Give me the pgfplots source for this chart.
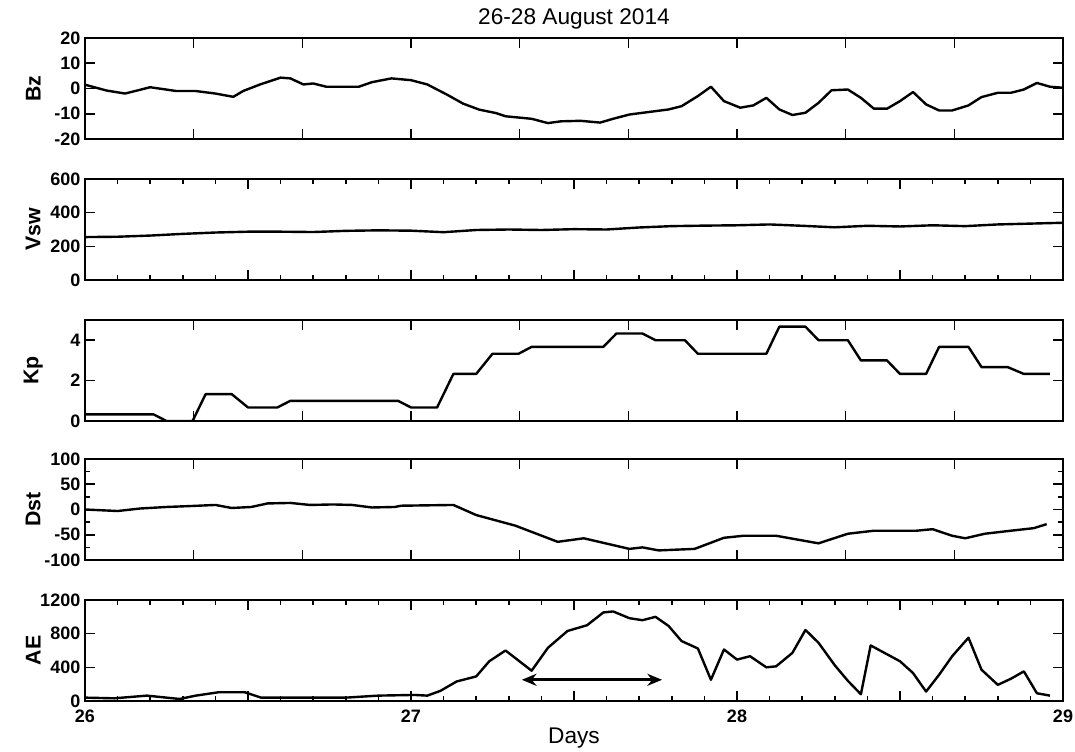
\documentclass[border=0pt]{standalone}
\usepackage{fontspec}
\setmainfont{Liberation Sans}
\usepackage{pgfplots}
\pgfplotsset{compat=1.18}
\usetikzlibrary{arrows.meta}

\pgfplotstableread{
x y
26.00 1.5
26.066 -0.8
26.123 -2
26.20 0.5
26.28 -1
26.34 -1
26.40 -2
26.455 -3.3
26.485 -1
26.537 1.6
26.60 4.3
26.63 4
26.67 1.6
26.70 2
26.74 0.7
26.84 0.7
26.88 2.5
26.94 4
27.00 3.3
27.05 1.6
27.11 -2.4
27.16 -6
27.21 -8.4
27.26 -9.7
27.29 -11
27.37 -12
27.42 -13.7
27.46 -13
27.52 -12.8
27.58 -13.5
27.62 -12
27.67 -10.3
27.73 -9.3
27.79 -8.3
27.83 -7
27.88 -3
27.92 0.7
27.96 -5
28.01 -7.6
28.05 -6.7
28.09 -3.7
28.13 -8.3
28.17 -10.5
28.21 -9.6
28.25 -5.7
28.29 -0.7
28.34 -0.4
28.38 -3.7
28.42 -8
28.46 -8
28.50 -5
28.54 -1.4
28.58 -6.3
28.62 -8.7
28.66 -8.7
28.71 -6.7
28.75 -3.4
28.80 -1.7
28.84 -1.7
28.88 -0.4
28.92 2.2
28.96 0.7
29.00 0.3
}\bzdata

\pgfplotstableread{
x y
26.0 255
26.1 257
26.2 264
26.3 274
26.4 282
26.5 287
26.6 287
26.7 285
26.8 292
26.9 295
27.0 293
27.1 284
27.2 297
27.3 300
27.4 297
27.5 302
27.6 300
27.7 312
27.8 320
27.9 323
28.0 325
28.1 330
28.2 322
28.3 313
28.4 322
28.5 318
28.6 325
28.7 320
28.8 330
28.9 335
29.0 340
}\vswdata

\pgfplotstableread{
x y
26.00 0.33
26.21 0.33
26.25 0
26.33 0
26.37 1.33
26.45 1.33
26.50 0.67
26.59 0.67
26.63 1.0
26.96 1.0
27.00 0.67
27.08 0.67
27.13 2.33
27.20 2.33
27.25 3.33
27.33 3.33
27.37 3.67
27.59 3.67
27.63 4.33
27.71 4.33
27.75 4.0
27.84 4.0
27.88 3.33
28.09 3.33
28.13 4.67
28.21 4.67
28.25 4.0
28.34 4.0
28.38 3.0
28.46 3.0
28.50 2.33
28.58 2.33
28.62 3.67
28.71 3.67
28.75 2.67
28.83 2.67
28.88 2.33
28.96 2.33
}\kpdata

\pgfplotstableread{
x y
26.00 0
26.10 -3
26.17 2
26.25 5
26.33 7
26.40 9
26.45 3
26.51 5
26.56 12
26.63 13
26.69 9
26.76 10
26.82 9
26.88 4
26.95 5
26.97 7.5
27.13 9
27.20 -11
27.32 -32
27.45 -64
27.53 -57
27.67 -78
27.71 -75
27.76 -81
27.87 -78
27.96 -56
28.02 -52
28.12 -52
28.25 -67
28.34 -48
28.42 -42
28.55 -42
28.60 -39
28.66 -52
28.70 -57
28.76 -48
28.84 -42
28.91 -37
28.95 -29
}\dstdata

\pgfplotstableread{
x y
26.00 40
26.09 32
26.19 64
26.29 24
26.34 64
26.41 104
26.49 104
26.54 40
26.65 40
26.80 40
26.90 64
27.01 72
27.05 64
27.09 120
27.14 232
27.20 292
27.24 472
27.29 600
27.37 360
27.42 632
27.48 832
27.54 900
27.59 1052
27.62 1064
27.67 984
27.71 960
27.75 1000
27.79 892
27.83 712
27.88 624
27.92 252
27.96 612
28.00 492
28.04 532
28.09 400
28.12 412
28.17 572
28.21 844
28.25 692
28.30 424
28.34 240
28.38 80
28.41 660
28.50 472
28.54 332
28.58 112
28.62 312
28.66 532
28.71 752
28.75 372
28.80 192
28.84 264
28.88 352
28.92 92
28.96 64
}\aedata

\pgfplotsset{
  panel/.style={
    scale only axis, width=733.5pt, height=75.75pt,
    xmin=26, xmax=29,
    axis line style={line width=1.3pt},
    tick style={line width=1.2pt, black},
    major tick length=7.5pt, minor tick length=4pt,
    xtick pos=both, ytick pos=both,
    tick align=inside,
    /pgf/number format/assume math mode=true,
    /pgf/number format/1000 sep={},
    tick label style={font=\fontsize{13.5}{15}\selectfont\bfseries},
    yticklabel style={inner ysep=0.5pt},
    every axis y label/.style={at={(axis description cs:-0.053,0.5)},rotate=90,anchor=center,font=\fontsize{16}{18}\selectfont\bfseries},
    every axis title/.style={at={(axis description cs:0.5,1.19)},anchor=center,font=\fontsize{17}{19}\selectfont},
    anchor=north west,
  },
  thirds/.style={xtick={26,26.3333,26.6667,27,27.3333,27.6667,28,28.3333,28.6667,29}, minor x tick num=4, xticklabels={}},
  halves/.style={xtick={26,26.5,27,27.5,28,28.5,29}, minor x tick num=4},
  dataline/.style={black, line width=1.8pt, mark=none, line join=round},
}

\begin{document}
\begin{tikzpicture}
\useasboundingbox (0pt,0pt) rectangle (806.25pt,-564pt);

\begin{axis}[panel, thirds, at={(63.75pt,-28.5pt)},
  ymin=-20, ymax=20, ytick={-20,-10,0,10,20}, ylabel={Bz},
  title={26-28 August 2014}]
\addplot[dataline] table {\bzdata};
\end{axis}

\begin{axis}[panel, halves, xticklabels={}, at={(63.75pt,-134.25pt)},
  ymin=0, ymax=600, ytick={0,200,400,600}, ylabel={Vsw}]
\addplot[dataline] table {\vswdata};
\end{axis}

\begin{axis}[panel, thirds, at={(63.75pt,-240pt)},
  ymin=0, ymax=5, ytick={0,2,4}, ylabel={Kp}]
\addplot[dataline] table {\kpdata};
\end{axis}

\begin{axis}[panel, thirds, at={(63.75pt,-344.25pt)},
  ymin=-100, ymax=100, ytick={-100,-50,0,50,100}, minor y tick num=1, ylabel={Dst}]
\addplot[dataline] table {\dstdata};
\end{axis}

\begin{axis}[panel, halves, xticklabels={26,,27,,28,,29}, at={(63.75pt,-450pt)},
  ymin=0, ymax=1200, ytick={0,400,800,1200}, ylabel={AE},
  xticklabel style={inner ysep=0.5pt, yshift=-6pt},
  xlabel={Days},
  every axis x label/.style={at={(axis description cs:0.5,-0.37)},anchor=center,font=\fontsize{17}{19}\selectfont}]
\addplot[dataline] table {\aedata};
\draw[{Stealth[length=11pt,width=9pt]}-{Stealth[length=11pt,width=9pt]}, line width=2.2pt] (axis cs:27.34,252) -- (axis cs:27.77,252);
\end{axis}
\end{tikzpicture}
\end{document}
